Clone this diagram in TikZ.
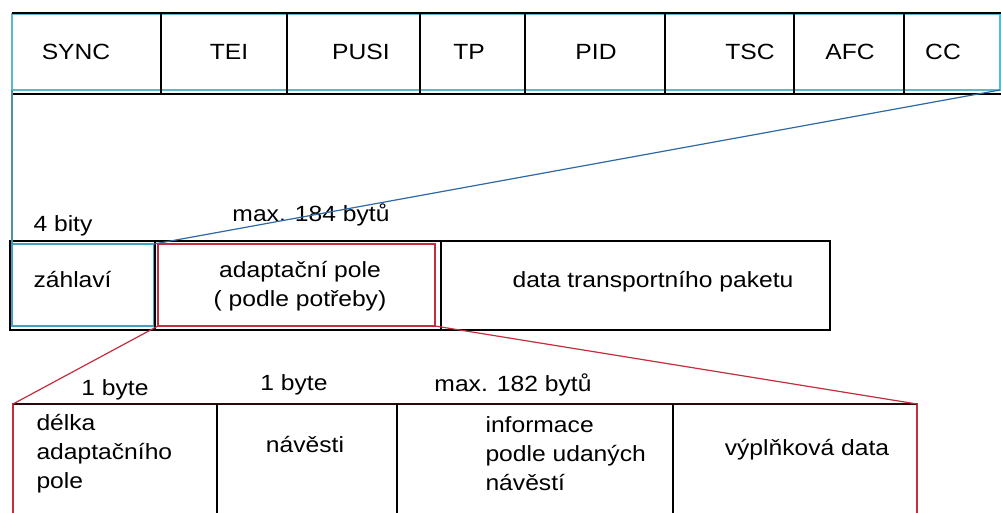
\documentclass[tikz,border=0pt]{standalone}
\usepackage{fontspec}
\setmainfont{Liberation Sans}[FakeStretch=1.12]
\definecolor{hdrcyan}{RGB}{90,185,205}
\definecolor{zahlcyan}{RGB}{70,160,195}
\definecolor{linkblue}{RGB}{45,105,165}
\definecolor{adred}{RGB}{195,45,60}

\begin{document}
\begin{tikzpicture}[x=1pt,y=-1pt,font=\fontsize{22}{29}\selectfont,
    cell/.style={draw,rectangle,anchor=north west,inner sep=0,outer sep=0},
    blk/.style={black,line width=1.6pt}]
    \useasboundingbox (0,0) rectangle (1001,513);
    \clip (0,0) rectangle (1001,513);
    % top row: zahlavi in detail
    \node[cell,draw=hdrcyan,line width=1.4pt,minimum width=988,minimum height=76] (hdr) at (12,14) {};
    \draw[blk] (12,13) -- (1001,13);
    \draw[blk] (12,94) -- (1001,94);
    \foreach \x in {161,287,420,525,665,794,904}
        \draw[blk] (\x,13) -- (\x,94);
    \foreach \x/\lbl in {76/SYNC,229/TEI,361/PUSI,469/TP,596/PID,750/TSC,850/AFC,943/CC}
        \node (\lbl) at (\x,52) {\lbl};
    % middle row: transport packet
    \node[cell,blk,minimum width=820,minimum height=89] (pkt) at (10,241) {};
    \node[cell,draw=zahlcyan,line width=1.4pt,minimum width=142,minimum height=82] (zahl) at (12,244) {};
    \draw[blk] (155,241) -- (155,330);
    \node[cell,draw=adred,line width=1.4pt,minimum width=277,minimum height=82] (adapt) at (158,244) {};
    \draw[blk] (441,241) -- (441,330);
    \node[anchor=west] (zahltxt) at (30,280) {záhlaví};
    \node[align=center] (adapttxt) at (300,286) {adaptační pole\\( podle potřeby)};
    \node (datatxt) at (653,282) {data transportního paketu};
    \node[anchor=west] (bity) at (30,226) {4 bity};
    \node (max184) at (311,215) {max. 184 bytů};
    % bottom row: adaptacni pole in detail
    \node[cell,draw=adred,line width=2pt,minimum width=904,minimum height=130] (adrow) at (13,404) {};
    \draw[black!80!adred,line width=1.6pt] (13,404) -- (917,404);
    \foreach \x in {217,397,673}
        \draw[blk] (\x,404) -- (\x,513);
    \node[anchor=west,align=left] (delka) at (33,454) {délka\\adaptačního\\pole};
    \node (navesti) at (305,445) {návěsti};
    \node[anchor=west,align=left] (info) at (482,454) {informace\\podle udaných\\návěstí};
    \node (vypln) at (807,450) {výplňková data};
    \node (byteA) at (115,390) {1 byte};
    \node (byteB) at (294,385) {1 byte};
    \node (max182) at (513,385) {max. 182 bytů};
    % connectors
    \draw[hdrcyan!80!black,line width=1.4pt] (hdr.south west) -- (zahl.north west);
    \draw[linkblue,line width=1.2pt] (zahl.north east) -- (hdr.south east);
    \draw[adred,line width=1.2pt] (adapt.south west) -- (adrow.north west);
    \draw[adred,line width=1.2pt] (adapt.south east) -- (adrow.north east);
\end{tikzpicture}
\end{document}
